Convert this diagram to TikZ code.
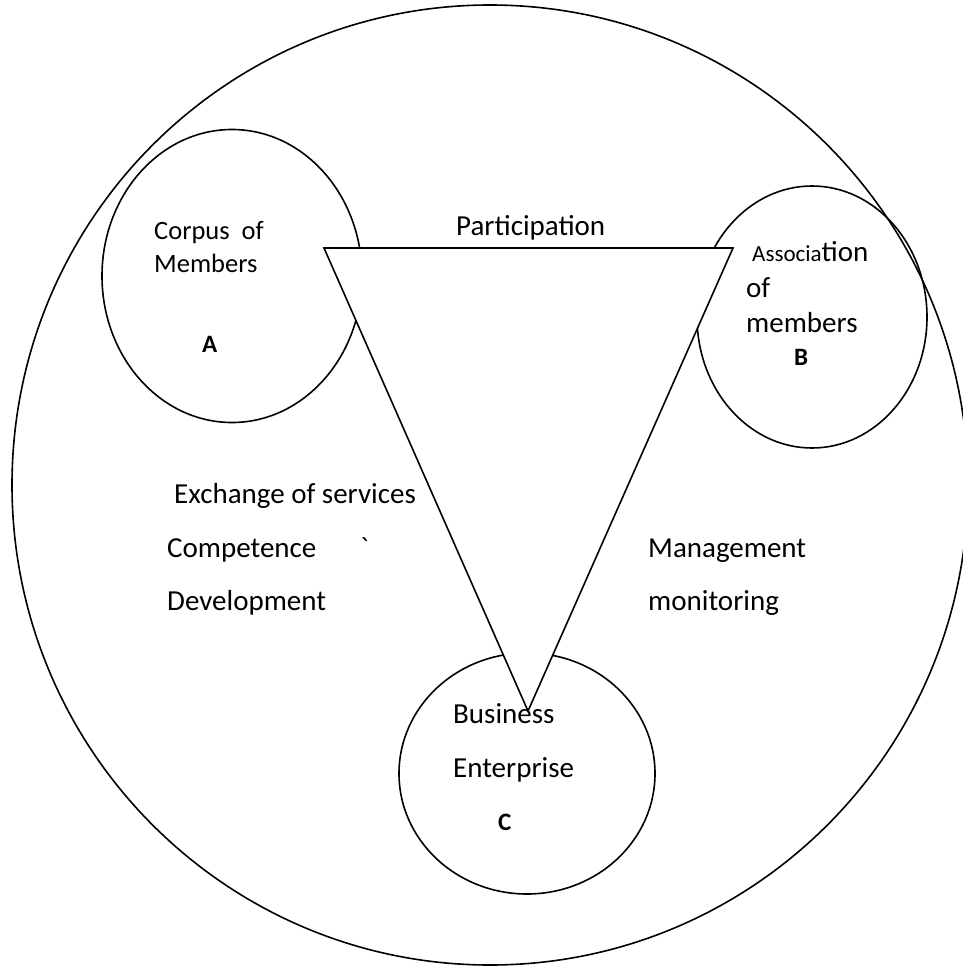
\documentclass[tikz,border=0pt]{standalone}
\usepackage{fontspec}
\setmainfont{Carlito}
% same face without the TeX ligature mapping, so ` stays a grave mark
\newfontfamily\rawfont{Carlito}
\usetikzlibrary{shapes.geometric}

\tikzset{
  ring/.style={ellipse, draw, line width=1.6pt, inner sep=0pt},
  lbl/.style={font=\fontsize{29}{35}\selectfont, inner sep=0pt, anchor=base west},
  lblsmall/.style={font=\fontsize{26.5}{32}\selectfont, inner sep=0pt, anchor=base west},
  tag/.style={font=\fontsize{25}{30}\selectfont\bfseries, inner sep=0pt, anchor=base west},
}

\begin{document}
\begin{tikzpicture}[x=1pt, y=-1pt]
  \useasboundingbox (0,0) rectangle (963,966);
  \clip (0,0) rectangle (963,966);

  % outer boundary
  \node[ring, minimum width=956, minimum height=960] (outer) at (490,485) {};

  % the three parties
  \node[ring, minimum width=260, minimum height=293] (A) at (232,276) {};
  \node[ring, minimum width=230, minimum height=262] (B) at (812,317) {};
  \node[ring, minimum width=256, minimum height=241] (C) at (527,773.5) {};

  % relationship triangle
  \coordinate (t1) at (324,248);
  \coordinate (t2) at (733,248);
  \coordinate (t3) at (528,711);
  \filldraw[fill=white, line width=1.6pt] (t1) -- (t2) -- (t3) -- cycle;

  % labels of A
  \node[lblsmall] (a1) at (154,239) {Corpus\ \ of};
  \node[lblsmall] (a2) at (154,272) {Members};
  \node[tag] (a3) at (202,352) {A};

  % labels of B
  \node[inner sep=0pt, anchor=base west] (b1) at (752,261)
    {\fontsize{23}{28}\selectfont Associa\fontsize{29}{35}\selectfont tion};
  \node[lbl] (b2) at (746,297) {of};
  \node[lbl] (b3) at (746,332) {members};
  \node[tag] (b4) at (794,365) {B};

  % labels of C
  \node[lbl] (c1) at (453,723) {Business};
  \node[lbl] (c2) at (453,777) {Enterprise};
  \node[tag] (c3) at (498,830) {C};

  % edge labels
  \node[lbl] (p) at (456,235) {Participation};
  \node[lbl] (e1) at (174,503) {Exchange of services};
  \node[lbl] (e2) at (167,557) {Competence};
  \node[lbl] (e3) at (360,557) {\rawfont `};
  \node[lbl] (e4) at (167,610) {Development};
  \node[lbl] (m1) at (648,557) {Management};
  \node[lbl] (m2) at (648,610) {monitoring};
\end{tikzpicture}
\end{document}
